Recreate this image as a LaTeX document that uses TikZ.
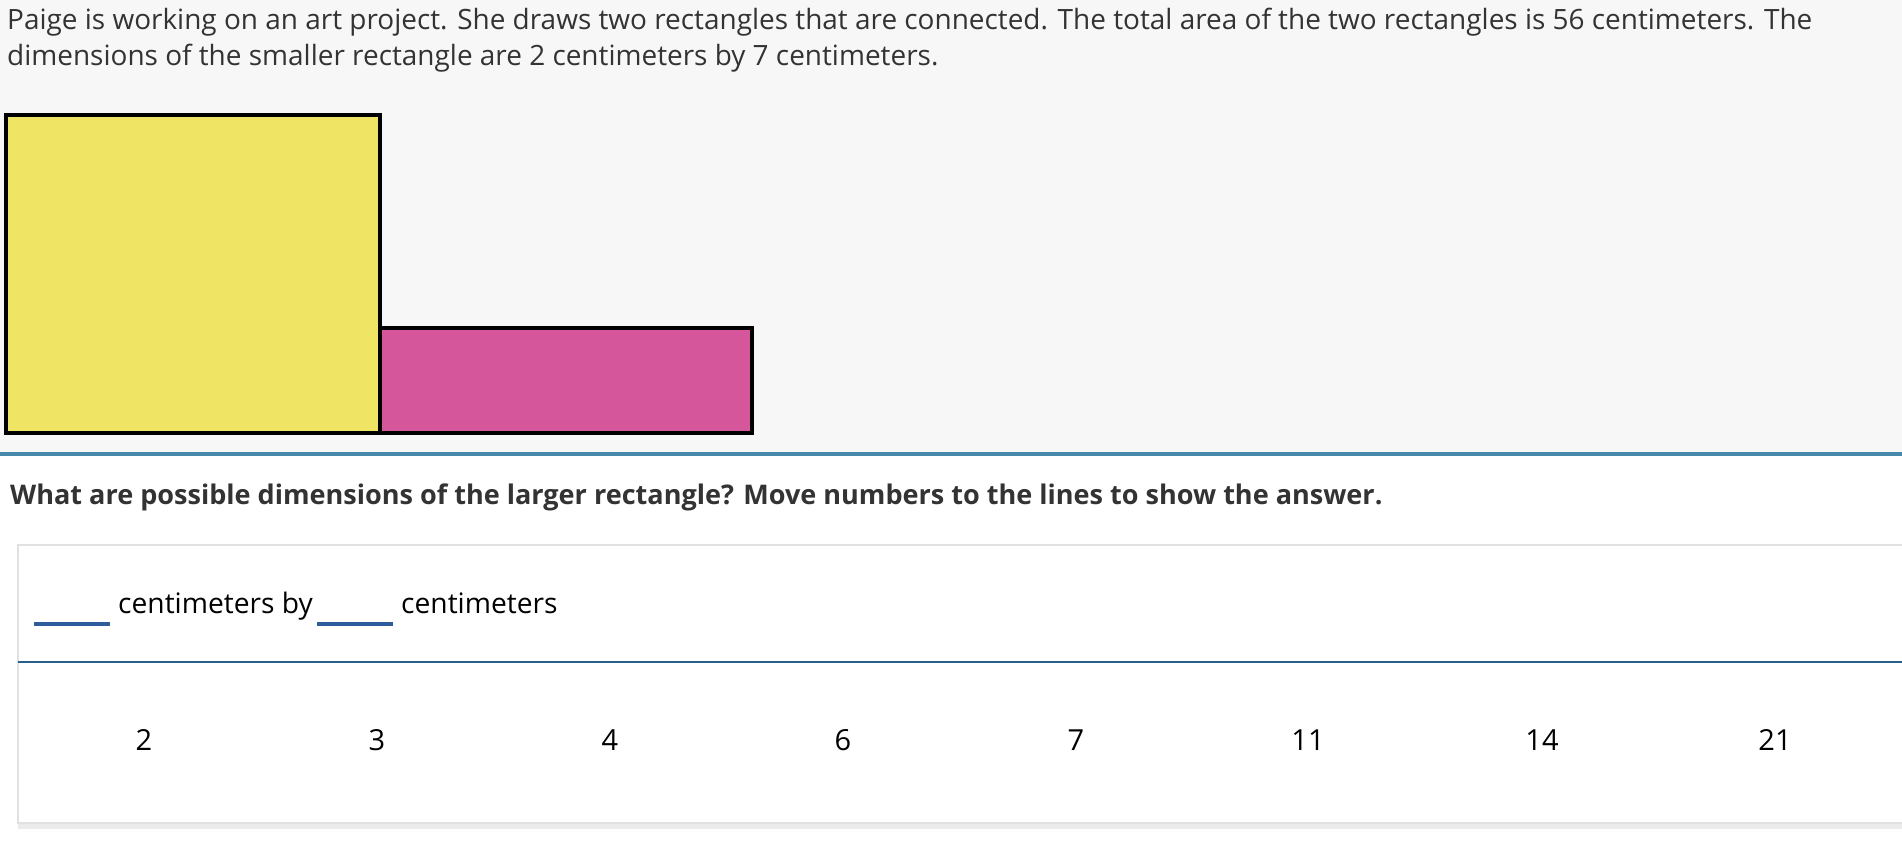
\documentclass[tikz,border=0pt]{standalone}
\usepackage{fontspec}
\setmainfont{Open Sans}
\definecolor{bggray}{RGB}{247,247,247}
\definecolor{txtgray}{RGB}{51,51,51}
\definecolor{rectyellow}{RGB}{239,228,100}
\definecolor{rectpink}{RGB}{214,86,155}
\definecolor{topblue}{RGB}{72,136,170}
\definecolor{blankblue}{RGB}{45,92,155}
\definecolor{divblue}{RGB}{40,94,140}
\definecolor{cardborder}{RGB}{225,225,225}
\begin{document}
\begin{tikzpicture}[x=1pt,y=-1pt,
  para/.style={anchor=base west,inner sep=0pt,text=txtgray,font=\fontsize{27.95}{36}\selectfont},
  question/.style={anchor=base west,inner sep=0pt,text=txtgray,font=\fontsize{27.05}{34}\selectfont\bfseries},
  cardtext/.style={anchor=base west,inner sep=0pt,text=black,font=\fontsize{28.2}{34}\selectfont},
  numtext/.style={anchor=base,inner sep=0pt,text=black,font=\fontsize{29}{34}\selectfont},
  blank/.style={draw=blankblue,line width=4pt},
  rectshape/.style={draw=black,line width=3.3pt}]
\useasboundingbox (0,0) rectangle (1902,844);
\fill[white] (0,0) rectangle (1902,844);
\fill[bggray] (0,0) rectangle (1902,454);
% shapes
\filldraw[rectshape,fill=rectyellow] (6,115) rectangle (380,433);
\filldraw[rectshape,fill=rectpink] (380,328) rectangle (752,433);
% top separator
\draw[topblue,line width=3.5pt] (0,454) -- (1902,454);
% texts
\node[para] (l1) at (7,29) {Paige is working on an art project. She draws two rectangles that are connected. The total area of the two rectangles is 56 centimeters. The};
\node[para] (l2) at (7,65) {dimensions of the smaller rectangle are 2 centimeters by 7 centimeters.};
\node[question] (q) at (10,504) {What are possible dimensions of the larger rectangle? Move numbers to the lines to show the answer.};
% card
\fill[black!18] (18,549) rectangle (1910,826.5);
\fill[black!8] (18,547) rectangle (1910,828.5);
\filldraw[draw=cardborder,fill=white,line width=1.2pt] (18,545) rectangle (1910,823);
\draw[divblue,line width=2pt] (18,662) -- (1902,662);
\coordinate (b1a) at (34,624);
\coordinate (b1b) at (110,624);
\coordinate (b2a) at (317,624);
\coordinate (b2b) at (393,624);
\draw[blank] (b1a) -- (b1b);
\draw[blank] (b2a) -- (b2b);
\node[cardtext] (c1) at (118,613) {centimeters by};
\node[cardtext] (c2) at (401,613) {centimeters};
\node[numtext] (n2) at (144,750) {2};
\node[numtext] (n3) at (377,750) {3};
\node[numtext] (n4) at (610,750) {4};
\node[numtext] (n6) at (843,750) {6};
\node[numtext] (n7) at (1076,750) {7};
\node[numtext] (n11) at (1308,750) {11};
\node[numtext] (n14) at (1542,750) {14};
\node[numtext] (n21) at (1775,750) {21};
\end{tikzpicture}
\end{document}
